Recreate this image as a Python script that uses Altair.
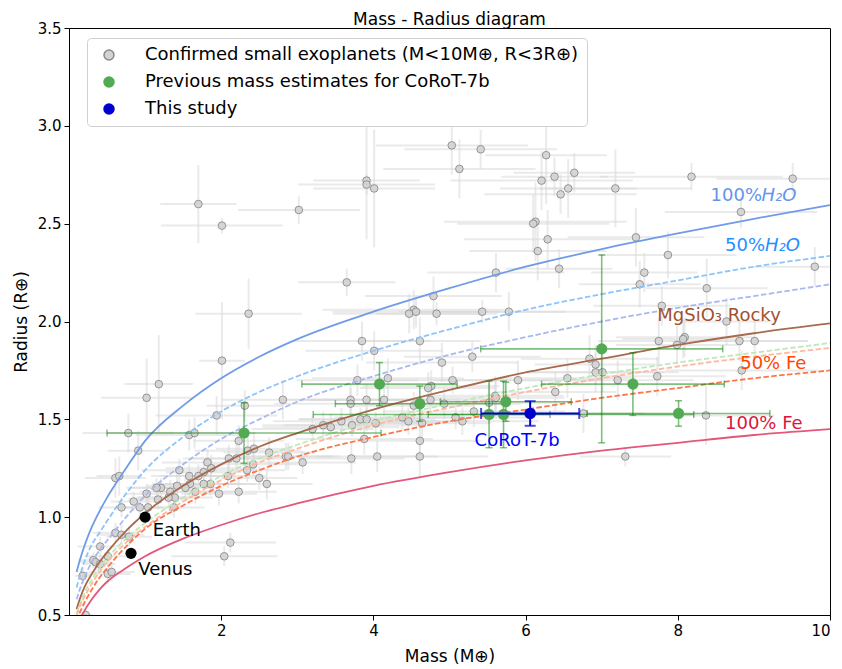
import altair as alt
import pandas as pd

# ---------------- data ----------------
exo_mass = [1.70, 2.01, 3.02, 3.91, 3.91, 4.01, 3.65, 2.36, 2.01, 1.18, 1.02,
            5.03, 5.41, 5.13, 6.27, 6.38, 6.64, 6.21, 6.46, 6.56, 7.18, 6.13, 6.10,
            6.29, 6.16, 7.45, 6.44, 5.61, 7.56, 7.50, 4.79, 4.53, 4.47, 4.56, 4.83,
            5.43, 5.78, 7.79, 8.18, 9.51, 8.83, 7.87, 9.80, 8.38, 8.64, 8.09, 8.07,
            7.75, 8.81, 9.01, 4.90, 5.30, 7.99, 6.84, 6.92, 6.92, 7.01, 6.55, 5.90,
            5.04, 7.73, 7.21, 8.84, 5.60, 5.61, 5.52, 6.39, 6.76, 8.37, 7.31, 4.93,
            5.32, 5.08, 5.17, 3.85, 4.61, 4.01, 4.19, 3.79, 4.76, 4.72, 2.81, 3.70,
            3.91, 4.14, 3.70, 4.75, 4.53, 3.58, 3.34, 3.44, 3.72, 3.83, 3.91, 4.03,
            4.38, 4.46, 4.64, 3.20, 4.61, 3.88, 3.71, 4.05, 4.61, 2.63, 2.85, 2.88,
            3.07, 2.60, 1.94, 0.78, 1.58, 1.65, 0.91, 2.23, 2.35, 2.43, 2.31, 2.34,
            2.42, 2.50, 2.23, 2.10, 2.20, 2.09, 1.97, 1.45, 1.82, 1.87, 1.77, 1.86,
            1.77, 1.70, 1.58, 1.59, 1.66, 1.42, 1.53, 1.33, 1.39, 1.31, 1.38, 1.21,
            1.15, 1.02, 1.17, 0.85, 0.93, 1.04, 0.69, 0.61, 0.69, 0.79, 0.41, 0.32,
            0.35, 0.41, 0.51, 0.51, 0.56, 0.18, 0.22, 0.61, 0.66, 2.04, 2.12]
exo_mass_err = [0.50, 0.80, 0.80, 0.70, 0.90, 0.80, 0.64, 0.70, 0.30, 0.45, 0.60,
                1.00, 1.00, 1.00, 0.80, 0.70, 0.80, 1.20, 1.00, 0.90, 1.00, 1.20, 1.00,
                1.10, 0.90, 0.90, 0.70, 0.90, 0.70, 0.80, 0.90, 1.20, 1.00, 1.10, 0.80,
                1.10, 1.20, 0.90, 1.20, 1.00, 1.00, 0.90, 0.80, 0.80, 0.60, 0.90, 0.80,
                0.80, 0.90, 0.70, 1.00, 0.90, 0.80, 0.90, 0.80, 0.90, 1.00, 0.90, 1.10,
                1.30, 0.90, 1.00, 1.00, 0.90, 0.90, 1.00, 0.80, 0.80, 0.90, 0.60, 1.00,
                1.20, 1.00, 1.00, 0.90, 0.80, 0.90, 1.00, 0.80, 0.90, 0.90, 0.80, 0.90,
                0.80, 1.00, 1.00, 0.80, 0.80, 0.90, 0.80, 0.90, 0.90, 0.80, 0.90, 0.80,
                0.90, 0.80, 0.90, 0.80, 0.80, 0.90, 0.70, 0.80, 0.90, 0.60, 0.70, 0.60,
                0.70, 0.60, 0.80, 0.60, 0.70, 0.80, 0.40, 0.60, 0.70, 0.50, 0.50, 0.50,
                0.60, 0.50, 0.50, 0.60, 0.60, 0.50, 0.50, 0.50, 0.60, 0.60, 0.50, 0.60,
                0.50, 0.50, 0.50, 0.50, 0.50, 0.40, 0.50, 0.40, 0.50, 0.40, 0.40, 0.40,
                0.40, 0.30, 0.40, 0.30, 0.30, 0.30, 0.30, 0.30, 0.30, 0.30, 0.30, 0.20,
                0.20, 0.20, 0.30, 0.30, 0.30, 0.10, 0.10, 0.40, 0.30, 0.70, 0.60]
exo_radius = [2.60, 2.49, 2.57, 2.72, 2.70, 2.68, 2.20, 2.04, 1.80, 1.68, 1.61,
              2.90, 2.88, 2.78, 2.85, 2.74, 2.76, 2.72, 2.65, 2.68, 2.68, 2.51, 2.50,
              2.42, 2.36, 2.43, 2.27, 2.25, 2.25, 2.19, 2.13, 2.06, 2.04, 2.05, 2.04,
              2.05, 2.05, 2.08, 2.74, 2.73, 2.56, 2.34, 2.28, 2.17, 2.00, 1.92, 1.91,
              1.90, 1.90, 1.90, 1.79, 1.82, 1.88, 1.81, 1.78, 1.74, 1.74, 1.71, 1.70,
              1.70, 1.72, 1.70, 1.75, 1.62, 1.61, 1.585, 1.64, 1.53, 1.52, 1.31, 1.58,
              1.54, 1.51, 1.49, 1.90, 1.90, 1.85, 1.71, 1.70, 1.67, 1.66, 1.60, 1.60,
              1.60, 1.60, 1.58, 1.60, 1.57, 1.49, 1.47, 1.46, 1.47, 1.50, 1.50, 1.48,
              1.51, 1.49, 1.48, 1.45, 1.39, 1.40, 1.30, 1.31, 1.31, 1.33, 1.31, 1.31,
              1.28, 1.17, 1.52, 1.43, 1.42, 1.43, 1.34, 1.39, 1.34, 1.35, 1.57, 1.24,
              1.27, 1.20, 1.13, 1.30, 1.30, 1.21, 1.12, 1.24, 1.28, 1.25, 1.23, 1.17,
              1.17, 1.21, 1.21, 1.17, 1.13, 1.16, 1.15, 1.13, 1.10, 1.10, 1.05, 1.15,
              1.15, 1.12, 1.09, 1.08, 1.05, 1.05, 1.05, 0.92, 0.91, 0.90, 0.85, 0.78,
              0.77, 0.76, 0.80, 0.71, 0.72, 0.70, 0.50, 1.20, 1.21, 0.80, 0.87]
exo_radius_err = [0.20, 0.04, 0.07, 0.30, 0.05, 0.30, 0.07, 0.18, 0.30, 0.25, 0.20,
                  0.15, 0.10, 0.15, 0.25, 0.10, 0.10, 0.15, 0.10, 0.15, 0.20, 0.20, 0.15,
                  0.15, 0.15, 0.15, 0.10, 0.10, 0.10, 0.12, 0.10, 0.10, 0.10, 0.08, 0.06,
                  0.06, 0.10, 0.10, 0.07, 0.08, 0.08, 0.12, 0.10, 0.15, 0.12, 0.10, 0.10,
                  0.12, 0.10, 0.10, 0.10, 0.08, 0.10, 0.12, 0.10, 0.10, 0.10, 0.10, 0.10,
                  0.07, 0.10, 0.10, 0.10, 0.10, 0.10, 0.10, 0.10, 0.10, 0.15, 0.05, 0.08,
                  0.08, 0.06, 0.07, 0.10, 0.12, 0.10, 0.10, 0.08, 0.08, 0.08, 0.10, 0.08,
                  0.08, 0.08, 0.08, 0.07, 0.07, 0.07, 0.07, 0.07, 0.06, 0.06, 0.06, 0.06,
                  0.07, 0.07, 0.08, 0.07, 0.10, 0.08, 0.08, 0.08, 0.10, 0.08, 0.07, 0.07,
                  0.06, 0.08, 0.10, 0.10, 0.08, 0.08, 0.10, 0.08, 0.08, 0.08, 0.08, 0.06,
                  0.06, 0.06, 0.06, 0.07, 0.07, 0.06, 0.06, 0.06, 0.07, 0.07, 0.06, 0.06,
                  0.06, 0.06, 0.06, 0.06, 0.06, 0.06, 0.06, 0.06, 0.06, 0.05, 0.05, 0.05,
                  0.05, 0.05, 0.05, 0.05, 0.05, 0.05, 0.05, 0.05, 0.05, 0.05, 0.05, 0.04,
                  0.04, 0.04, 0.04, 0.05, 0.05, 0.04, 0.03, 0.10, 0.10, 0.05, 0.05]

prev_mass = [2.30, 4.08, 4.61, 5.74, 5.52, 5.71, 7.00, 7.41, 8.01]
prev_mass_err = [1.80, 1.02, 1.11, 0.86, 0.80, 2.50, 1.59, 1.20, 1.20]
prev_radius = [1.43, 1.68, 1.58, 1.59, 1.525, 1.525, 1.86, 1.68, 1.53]
prev_radius_err = [0.155, 0.11, 0.09, 0.10, 0.17, 0.17, 0.48, 0.16, 0.065]

this_mass = [6.06]
this_mass_err = [0.645]
this_radius = [1.53]
this_radius_err = [0.063]

solar_names = ["Earth", "Venus"]
solar_mass = [1.0, 0.815]
solar_radius = [1.0, 0.815]

curve_mass = [0.1, 0.15, 0.2, 0.3, 0.4, 0.5, 0.75, 1, 1.5, 2, 2.5, 3, 4, 5, 6, 7, 8, 9, 10]
r_h2o_100 = [0.72, 0.79, 0.85, 0.95, 1.03, 1.10, 1.25, 1.39, 1.57, 1.71, 1.82, 1.91, 2.05, 2.17, 2.28, 2.37, 2.45, 2.525, 2.595]
r_h2o_50 = [0.64, 0.71, 0.77, 0.86, 0.92, 0.98, 1.12, 1.24, 1.41, 1.54, 1.64, 1.72, 1.85, 1.96, 2.06, 2.14, 2.21, 2.28, 2.335]
r_h2o_25 = [0.58, 0.64, 0.69, 0.77, 0.83, 0.88, 1.00, 1.11, 1.27, 1.40, 1.50, 1.59, 1.72, 1.83, 1.92, 2.00, 2.07, 2.13, 2.19]
r_rocky = [0.53, 0.59, 0.64, 0.71, 0.77, 0.82, 0.93, 1.02, 1.16, 1.27, 1.36, 1.43, 1.55, 1.65, 1.74, 1.81, 1.88, 1.94, 1.99]
r_green = [0.51, 0.56, 0.61, 0.68, 0.74, 0.79, 0.89, 0.97, 1.10, 1.21, 1.30, 1.37, 1.49, 1.58, 1.66, 1.73, 1.79, 1.84, 1.89]
r_salmon = [0.50, 0.55, 0.59, 0.66, 0.72, 0.77, 0.87, 0.95, 1.08, 1.19, 1.28, 1.35, 1.47, 1.56, 1.64, 1.71, 1.77, 1.82, 1.865]
r_fe_50 = [0.47, 0.52, 0.56, 0.63, 0.69, 0.74, 0.85, 0.94, 1.06, 1.16, 1.24, 1.31, 1.41, 1.49, 1.55, 1.61, 1.66, 1.71, 1.75]
r_fe_100 = [0.43, 0.48, 0.52, 0.58, 0.63, 0.67, 0.74, 0.80, 0.89, 0.96, 1.02, 1.07, 1.16, 1.23, 1.29, 1.34, 1.38, 1.42, 1.45]

kinds = ["Confirmed small exoplanets (M<10M⊕, R<3R⊕)",
         "Previous mass estimates for CoRoT-7b",
         "This study"]

# ---------------- tables ----------------
def errtable(m, me, r, re, kind):
    return pd.DataFrame({
        "mass": m, "radius": r,
        "mlo": [a - b for a, b in zip(m, me)], "mhi": [a + b for a, b in zip(m, me)],
        "rlo": [a - b for a, b in zip(r, re)], "rhi": [a + b for a, b in zip(r, re)],
        "kind": kind,
    })

exo = errtable(exo_mass, exo_mass_err, exo_radius, exo_radius_err, kinds[0])
prev = errtable(prev_mass, prev_mass_err, prev_radius, prev_radius_err, kinds[1])
this = errtable(this_mass, this_mass_err, this_radius, this_radius_err, kinds[2])
solar = pd.DataFrame({"name": solar_names, "mass": solar_mass, "radius": solar_radius})

xs = alt.Scale(domain=[0, 10], nice=False, zero=False)
ys = alt.Scale(domain=[0.5, 3.5], nice=False, zero=False)
xa = alt.Axis(title="Mass (M⊕)", values=[2, 4, 6, 8, 10], format="d", titlePadding=10)
ya = alt.Axis(title="Radius (R⊕)", values=[0.5, 1.0, 1.5, 2.0, 2.5, 3.0, 3.5], format=".1f", titlePadding=7)


def X(f):
    return alt.X(f, type="quantitative", scale=xs, axis=xa)


def Y(f):
    return alt.Y(f, type="quantitative", scale=ys, axis=ya)


legend = alt.Legend(title=None, orient="none", legendX=18, legendY=10,
                    labelFontSize=18, labelLimit=0, symbolSize=100, symbolType="circle",
                    symbolOpacity=1, strokeColor="#d0d0d0", fillColor="white", padding=8,
                    cornerRadius=4, rowPadding=9, labelOffset=27, symbolOffset=5,
                    labelFont="DejaVu Sans", labelColor="black")
GREEN_PT = "#52ab52"
fill_enc = alt.Color("kind:N", scale=alt.Scale(domain=kinds, range=["#d3d3d3", GREEN_PT, "#0000cd"]), legend=legend)
stroke_enc = alt.Stroke("kind:N", scale=alt.Scale(domain=kinds, range=["#8a8a8a", GREEN_PT, "#0000cd"]), legend=legend)

layers = []
# gray error bars
layers.append(alt.Chart(exo).mark_rule(color="#d8d8d8", strokeWidth=2, opacity=0.55, clip=True).encode(
    x=X("mlo"), x2=alt.X2("mhi"), y=Y("radius")))
layers.append(alt.Chart(exo).mark_rule(color="#d8d8d8", strokeWidth=2, opacity=0.55, clip=True).encode(
    x=X("mass"), y=Y("rlo"), y2=alt.Y2("rhi")))

# gray points
layers.append(alt.Chart(exo).mark_circle(size=58, strokeWidth=1, opacity=0.9, clip=True).encode(
    x=X("mass"), y=Y("radius"), color=fill_enc, stroke=stroke_enc))

# model curves
curves = [
    (r_h2o_100, "#6f9be8", []),
    (r_h2o_50, "#8cc4fb", [5.5, 2.4]),
    (r_h2o_25, "#a9b9ef", [5.5, 2.4]),
    (r_rocky, "#a86a4c", []),
    (r_green, "#bfe8b8", [5.5, 2.4]),
    (r_salmon, "#ffb8a0", [5.5, 2.4]),
    (r_fe_50, "#ff7548", [5.5, 2.4]),
    (r_fe_100, "#e2577a", []),
]
for rr, col, dash in curves:
    df = pd.DataFrame({"mass": curve_mass, "radius": rr})
    mk = dict(color=col, strokeWidth=1.8, clip=True, interpolate="monotone")
    if dash:
        mk["strokeDash"] = dash
    layers.append(alt.Chart(df).mark_line(**mk).encode(x=X("mass"), y=Y("radius")))

# green error bars with caps
gcol = "#008000"
layers.append(alt.Chart(prev).mark_rule(color=gcol, opacity=0.5, strokeWidth=1.6, clip=True).encode(
    x=X("mlo"), x2=alt.X2("mhi"), y=Y("radius")))
layers.append(alt.Chart(prev).mark_rule(color=gcol, opacity=0.5, strokeWidth=1.6, clip=True).encode(
    x=X("mass"), y=Y("rlo"), y2=alt.Y2("rhi")))
for f in ["mlo", "mhi"]:
    layers.append(alt.Chart(prev).mark_tick(color=gcol, opacity=0.5, orient="vertical", size=7,
                                            thickness=1.5, clip=True).encode(x=X(f), y=Y("radius")))
for f in ["rlo", "rhi"]:
    layers.append(alt.Chart(prev).mark_tick(color=gcol, opacity=0.5, orient="horizontal", size=7,
                                            thickness=1.5, clip=True).encode(x=X("mass"), y=Y(f)))
layers.append(alt.Chart(prev).mark_circle(size=125, strokeWidth=0, opacity=1, clip=True).encode(
    x=X("mass"), y=Y("radius"), color=fill_enc, stroke=stroke_enc))

# this study
bcol = "#0000cd"
layers.append(alt.Chart(this).mark_rule(color=bcol, strokeWidth=2, clip=True).encode(
    x=X("mlo"), x2=alt.X2("mhi"), y=Y("radius")))
layers.append(alt.Chart(this).mark_rule(color=bcol, strokeWidth=2, clip=True).encode(
    x=X("mass"), y=Y("rlo"), y2=alt.Y2("rhi")))
for f in ["mlo", "mhi"]:
    layers.append(alt.Chart(this).mark_tick(color=bcol, orient="vertical", size=11, thickness=2,
                                            clip=True).encode(x=X(f), y=Y("radius")))
for f in ["rlo", "rhi"]:
    layers.append(alt.Chart(this).mark_tick(color=bcol, orient="horizontal", size=11, thickness=2,
                                            clip=True).encode(x=X("mass"), y=Y(f)))
layers.append(alt.Chart(this).mark_circle(size=135, strokeWidth=0, opacity=1, clip=True).encode(
    x=X("mass"), y=Y("radius"), color=fill_enc, stroke=stroke_enc))

# Earth & Venus
layers.append(alt.Chart(solar).mark_circle(size=125, color="black", opacity=1).encode(
    x=X("mass"), y=Y("radius")))

# annotations
ann = pd.DataFrame({
    "text": ["Earth", "Venus", "CoRoT-7b", "100%", "50%", "MgSiO₃ Rocky", "50% Fe", "100% Fe"],
    "mass": [1.10, 0.91, 5.33, 8.43, 8.62, 7.73, 8.82, 8.62],
    "radius": [0.93, 0.73, 1.39, 2.641, 2.386, 2.028, 1.781, 1.477],
    "col": ["black", "black", "#0000ff", "#6495ed", "#1e90ff", "#a0522d", "#ff4500", "#dc143c"],
})
layers.append(alt.Chart(ann).mark_text(align="left", baseline="middle", fontSize=18, font="DejaVu Sans").encode(
    x=X("mass"), y=Y("radius"), text="text:N", color=alt.Color("col:N", scale=None)))
ann_it = pd.DataFrame({
    "text": ["H₂O", "H₂O"],
    "mass": [8.43, 8.62],
    "radius": [2.641, 2.386],
    "col": ["#6495ed", "#1e90ff"],
    "dx": [51, 40],
})
for i in range(2):
    layers.append(alt.Chart(ann_it.iloc[[i]]).mark_text(align="left", baseline="middle", fontSize=18,
                                                         font="DejaVu Sans", fontStyle="italic",
                                                         dx=int(ann_it["dx"].iloc[i])).encode(
        x=X("mass"), y=Y("radius"), text="text:N", color=alt.Color("col:N", scale=None)))

chart = alt.layer(*layers).properties(
    width=761, height=587,
    title=alt.TitleParams("Mass - Radius diagram", fontSize=17, font="DejaVu Sans",
                          fontWeight="normal", offset=-8, color="black"),
    padding={"left": 4, "top": 3, "right": 0, "bottom": 0},
).configure(font="DejaVu Sans").configure_axis(
    labelFontSize=15, titleFontSize=17, labelFont="DejaVu Sans", titleFont="DejaVu Sans",
    titleFontWeight="normal", labelColor="black", titleColor="black",
    domainColor="black", tickColor="black", tickSize=5, grid=False, labelPadding=3,
).configure_view(stroke="black", strokeWidth=1)

chart.save("out.html", embed_options={"renderer": "svg", "actions": False})
